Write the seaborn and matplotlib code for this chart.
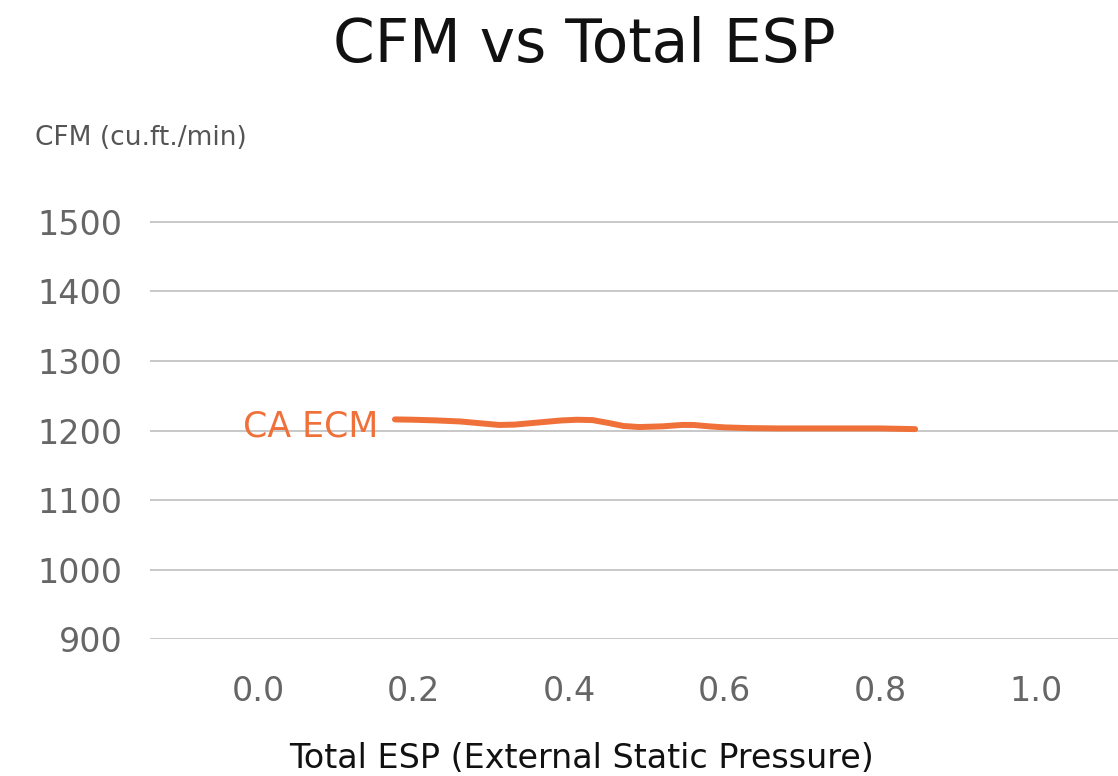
import numpy as np
import pandas as pd
import seaborn as sns
import matplotlib.pyplot as plt

# values
esp = [0.176, 0.20, 0.23, 0.26, 0.29, 0.31, 0.33, 0.36, 0.39, 0.41, 0.43, 0.45, 0.47, 0.49,
       0.52, 0.545, 0.56, 0.58, 0.60, 0.63, 0.67, 0.72, 0.80, 0.845]
cfm = [1216, 1215.5, 1214.5, 1213, 1210, 1208, 1208.5, 1211.5, 1214.5, 1215.5, 1215, 1211, 1206.5, 1205,
       1206, 1208, 1208, 1206, 1204.5, 1203.5, 1203, 1203, 1203, 1202]
series_name = "CA ECM"
y_ticks = [900, 1000, 1100, 1200, 1300, 1400, 1500]
x_ticks = [0.0, 0.2, 0.4, 0.6, 0.8, 1.0]

df = pd.DataFrame({"esp": esp, "cfm": cfm})

sns.set_style("white")
plt.rcParams["font.family"] = ["DejaVu Sans"]

orange = "#F0703A"
grey = "#666666"

fig = plt.figure(figsize=(11.18, 7.76), dpi=100)
ax = fig.add_axes([0.1342, 0.1765, 0.8658, 0.5643])

sns.lineplot(data=df, x="esp", y="cfm", ax=ax, color=orange, linewidth=4.3,
             solid_capstyle="round", solid_joinstyle="round")

ax.set_xlim(-0.139, 1.106)
ax.set_ylim(900, 1530)
ax.set_yticks(y_ticks)
ax.set_xticks(x_ticks)
ax.set_xticklabels([f"{t:.1f}" for t in x_ticks])
ax.grid(axis="y", color="#c8c8c8", linewidth=1.4)
ax.grid(axis="x", visible=False)
ax.tick_params(axis="y", length=0, pad=20, labelsize=24, labelcolor=grey)
ax.tick_params(axis="x", length=0, pad=26, labelsize=24, labelcolor=grey)
ax.set_xlabel("")
ax.set_ylabel("")
for s in ax.spines.values():
    s.set_visible(False)

ax.annotate(series_name, xy=(esp[0], cfm[0]), xytext=(-12, -5),
            textcoords="offset points", ha="right", va="center",
            color=orange, fontsize=25)

fig.text(0.523, 0.942, "CFM vs Total ESP", ha="center", va="center",
         fontsize=43, color="#111111")
fig.text(0.031, 0.822, "CFM (cu.ft./min)", ha="left", va="center",
         fontsize=19, color="#555555")
fig.text(0.52, 0.023, "Total ESP (External Static Pressure)", ha="center",
         va="center", fontsize=24, color="#111111")

fig.savefig("out.png", dpi=100)
